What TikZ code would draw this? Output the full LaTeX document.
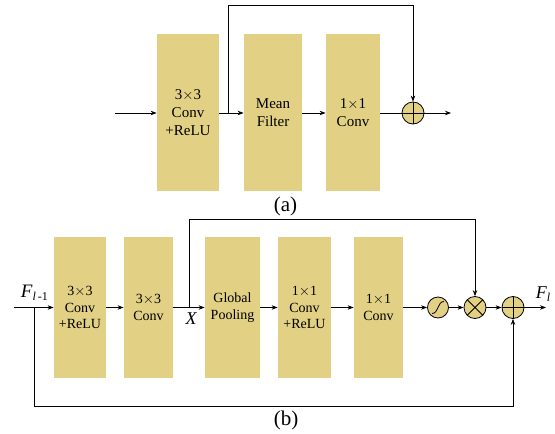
\documentclass[tikz,border=0pt]{standalone}
\usepackage{fontspec}
\setmainfont{Liberation Serif}
\usetikzlibrary{arrows.meta}
\definecolor{boxc}{RGB}{226,208,132}
\tikzset{
  blk/.style={fill=boxc, draw=none, inner sep=0pt, align=center},
  blka/.style={blk, minimum height=157pt, font=\fontsize{15}{18}\selectfont},
  blkb/.style={blk, minimum height=141pt, font=\fontsize{14}{16.5}\selectfont},
  arr/.style={-{Stealth[length=6pt,width=4.5pt]}},
  opnode/.style={circle, draw, fill=boxc, minimum size=22pt, inner sep=0pt, line width=0.8pt},
  plusop/.style={opnode, path picture={
      \draw (path picture bounding box.north) -- (path picture bounding box.south)
            (path picture bounding box.west) -- (path picture bounding box.east);}},
  timesop/.style={opnode, path picture={
      \draw (path picture bounding box.center) ++(45:11pt) -- ++(225:22pt)
            (path picture bounding box.center) ++(135:11pt) -- ++(-45:22pt);}},
  sigop/.style={opnode, path picture={
      \draw ([shift={(-6pt,-6pt)}]path picture bounding box.center)
            .. controls ([shift={(1pt,-6pt)}]path picture bounding box.center)
            and ([shift={(-1pt,6pt)}]path picture bounding box.center)
            .. ([shift={(6pt,6pt)}]path picture bounding box.center);}},
  lbl/.style={inner sep=0pt, font=\fontsize{21}{22}\selectfont}
}
\begin{document}
\begin{tikzpicture}[x=1pt, y=-1pt, line width=0.8pt]
\useasboundingbox (0,0) rectangle (555,434);

% ---- (a) residual block with mean filter ----
\node[blka, minimum width=62pt] (a1) at (188,112.5) {3$\times$3\\Conv\\+ReLU};
\node[blka, minimum width=58pt] (a2) at (273,112.5) {Mean\\Filter};
\node[blka, minimum width=54pt] (a3) at (353,112.5) {1$\times$1\\Conv};
\node[plusop] (aplus) at (413,113) {};
\coordinate (ain) at (115,113);
\coordinate (aout) at (451,113);
\coordinate (asplit) at (228,113);
\coordinate (atop) at (228,5);

\draw[arr] (ain) -- (a1.west |- ain);
\draw[arr] (a1.east |- ain) -- (a2.west |- ain);
\draw[arr] (a2.east |- ain) -- (a3.west |- ain);
\draw (a3.east |- ain) -- (aplus.west);
\draw[arr] (aplus.east) -- (aout);
\draw[arr] (asplit) -- (atop) -| (aplus.north);

\node[lbl] (capa) at (285.5,206) {(a)};

% ---- (b) residual block with channel attention ----
\node[blkb, minimum width=52pt] (b1) at (80,307.5) {3$\times$3\\Conv\\+ReLU};
\node[blkb, minimum width=49pt] (b2) at (148.5,307.5) {3$\times$3\\Conv};
\node[blkb, minimum width=55pt] (b3) at (232.5,307.5) {Global\\Pooling};
\node[blkb, minimum width=53pt] (b4) at (304.5,307.5) {1$\times$1\\Conv\\+ReLU};
\node[blkb, minimum width=49pt] (b5) at (378.5,307.5) {1$\times$1\\Conv};
\node[sigop, minimum size=21pt] (bsig) at (438,307.5) {};
\node[timesop] (btimes) at (475,307.5) {};
\node[plusop] (bplus) at (513,307.5) {};
\coordinate (bin) at (14,307.5);
\coordinate (bout) at (546,307.5);
\coordinate (bsplit) at (189,307.5);
\coordinate (btop) at (189,219);
\coordinate (bskip) at (34,307.5);
\coordinate (bbot) at (34,406);

\draw[arr] (bin) -- (b1.west |- bin);
\draw[arr] (b1.east |- bin) -- (b2.west |- bin);
\draw[arr] (b2.east |- bin) -- (b3.west |- bin);
\draw[arr] (b3.east |- bin) -- (b4.west |- bin);
\draw[arr] (b4.east |- bin) -- (b5.west |- bin);
\draw[arr] (b5.east |- bin) -- (bsig.west);
\draw[arr] (bsig.east) -- (btimes.west);
\draw[arr] (btimes.east) -- (bplus.west);
\draw[arr] (bplus.east) -- (bout);
\draw[arr] (bsplit) -- (btop) -| (btimes.north);
\draw[arr] (bskip) -- (bbot) -| (bplus.south);

\node[lbl, anchor=base west, font=\fontsize{19}{20}\selectfont] (fin) at (20.5,297) {\itshape F\raisebox{-0.4ex}{\fontsize{12}{12}\selectfont\itshape l\upshape\,-1}};
\node[lbl, anchor=base west, font=\fontsize{18}{20}\selectfont] (fout) at (535.5,298) {\itshape F\raisebox{-0.4ex}{\fontsize{12}{12}\selectfont\itshape l}};
\node[lbl, font=\fontsize{18}{18}\selectfont\itshape] (xl) at (191,319) {X};

\node[lbl] (capb) at (286,420) {(b)};
\end{tikzpicture}
\end{document}
